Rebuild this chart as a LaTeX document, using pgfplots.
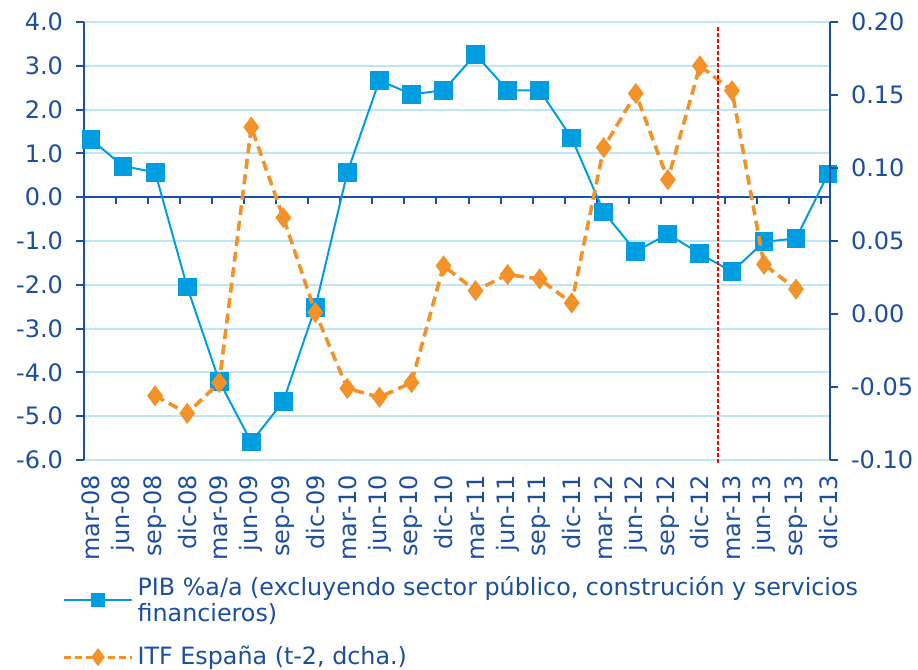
\documentclass[border=0pt]{standalone}
\usepackage{pgfplots}
\pgfplotsset{compat=1.18}
\usepackage{pgfplotstable}
\usepackage{fontspec}
\setmainfont{DejaVu Sans}
\definecolor{textblue}{RGB}{28,78,158}
\definecolor{axblue}{RGB}{25,80,160}
\definecolor{gridblue}{RGB}{190,230,247}
\definecolor{lineblue}{RGB}{0,158,224}
\definecolor{orangec}{RGB}{243,146,40}

\pgfplotstableread{
x pib
0 1.32
1 0.71
2 0.57
3 -2.05
4 -4.20
5 -5.59
6 -4.66
7 -2.51
8 0.57
9 2.67
10 2.35
11 2.44
12 3.26
13 2.44
14 2.44
15 1.35
16 -0.34
17 -1.24
18 -0.84
19 -1.29
20 -1.70
21 -1.02
22 -0.94
23 0.53
}\pibdata

\pgfplotstableread{
x itf
2 -0.056
3 -0.068
4 -0.047
5 0.128
6 0.066
7 0.001
8 -0.051
9 -0.057
10 -0.047
11 0.033
12 0.016
13 0.027
14 0.024
15 0.0075
16 0.114
17 0.151
18 0.092
19 0.170
20 0.153
21 0.034
22 0.017
}\itfdata

\begin{document}
\begin{tikzpicture}
\useasboundingbox (-42pt,-105pt) rectangle (417pt,230pt);
\begin{axis}[
  scale only axis, width=373pt, height=219pt,
  xmin=-0.22, xmax=23.06, ymin=-6, ymax=4,
  axis x line*=bottom, axis y line*=left,
  x axis line style={draw=none},
  y axis line style={draw=axblue, line width=1pt},
  xtick={0,...,23},
  xticklabels={mar-08,jun-08,sep-08,dic-08,mar-09,jun-09,sep-09,dic-09,mar-10,jun-10,sep-10,dic-10,mar-11,jun-11,sep-11,dic-11,mar-12,jun-12,sep-12,dic-12,mar-13,jun-13,sep-13,dic-13},
  x tick label style={rotate=90, anchor=east, font=\fontsize{12}{13}\selectfont, text=textblue},
  major x tick style={draw=none},
  ytick={-6,-5,...,4},
  y tick label style={font=\fontsize{12}{13}\selectfont, text=textblue, xshift=-3pt},
  /pgf/number format/.cd, fixed, fixed zerofill, precision=1, assume math mode=true,
  /pgfplots/.cd,
  tick align=outside, major tick length=4pt,
  major y tick style={draw=axblue, line width=1pt},
  ymajorgrids, grid style={draw=gridblue, line width=1pt},
  clip=false,
  legend style={at={(axis description cs:0,0)}, anchor=north west, xshift=-14pt, yshift=-54pt,
    draw=none, fill=none, font=\fontsize{11.9}{13}\selectfont, text=textblue,
    cells={anchor=west, align=left}, row sep=7pt},
  legend cell align=left,
  legend image code/.code={\draw[mark repeat=2,mark phase=2,#1] plot coordinates {(0pt,0pt)(17pt,0pt)(34pt,0pt)};},
]
\draw[axblue, line width=1pt] (axis cs:-0.22,0) -- (axis cs:23.06,0);
\pgfplotsinvokeforeach{0.78,1.78,2.78,3.78,4.78,5.78,6.78,7.78,8.78,9.78,10.78,11.78,12.78,13.78,14.78,15.78,16.78,17.78,18.78,19.78,20.78,21.78,22.78}{
  \draw[axblue, line width=1pt] (axis cs:#1,0) -- ([yshift=-3.5pt]axis cs:#1,0);
}
\addplot[forget plot, lineblue, line width=1pt, mark=square*, mark size=4.2pt] table[x=x,y=pib] {\pibdata};
\addlegendimage{lineblue, line width=1pt, mark=square*, mark size=3pt}
\addlegendentry{PIB \%a/a (excluyendo sector público, construción y servicios\\financieros)}
\addlegendimage{orangec, line width=1.6pt, dash pattern=on 3.5pt off 2pt, mark=diamond*, mark size=3.2pt, mark options={solid}}
\addlegendentry{ITF España (t-2, dcha.)}
\end{axis}
\begin{axis}[
  scale only axis, width=373pt, height=219pt,
  xmin=-0.22, xmax=23.06, ymin=-0.10, ymax=0.20,
  axis x line=none, axis y line*=right,
  y axis line style={draw=axblue, line width=1pt},
  ytick={-0.10,-0.05,0,0.05,0.10,0.15,0.20},
  y tick label style={font=\fontsize{12}{13}\selectfont, text=textblue, xshift=3pt},
  /pgf/number format/.cd, fixed, fixed zerofill, precision=2, assume math mode=true,
  /pgfplots/.cd,
  tick align=outside, major tick length=4pt,
  major y tick style={draw=axblue, line width=1pt},
  clip=false,
]
\addplot[orangec, line width=1.8pt, dash pattern=on 5pt off 2.8pt, mark=diamond*, mark size=3.8pt, mark options={solid}] table[x=x,y=itf] {\itfdata};
\draw[red, line width=0.8pt, dash pattern=on 2pt off 1pt] (axis cs:19.57,0.1966) -- (axis cs:19.57,-0.1034);
\end{axis}
\end{tikzpicture}
\end{document}
